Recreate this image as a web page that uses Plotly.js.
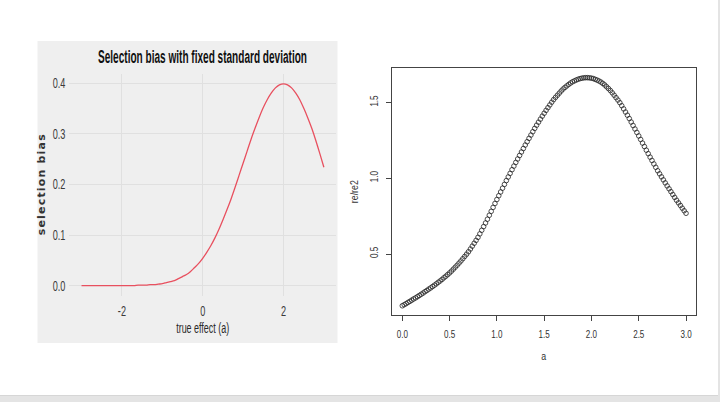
<!DOCTYPE html>
<html><head><meta charset="utf-8">
<script src="https://cdn.plot.ly/plotly-3.0.1.min.js"></script>
<style>html,body{margin:0;padding:0;background:#fff}#chart{width:720px;height:402px}</style>
</head><body><div id="chart"></div>
<script>
// Left panel: selection bias vs true effect (a), sampled every 0.1 from -3 to 3
const biasStart = -3, biasStep = 0.1;
const biasValues = [
  0.000,0.000,0.000,0.000,0.000,0.000,0.000,0.000,0.000,0.000,0.000,
  0.000,0.000,0.000,0.001,0.001,0.001,0.002,0.002,0.003,0.004,
  0.006,0.008,0.010,0.014,0.018,0.022,0.028,0.036,0.044,0.054,
  0.066,0.079,0.094,0.111,0.130,0.150,0.171,0.194,0.218,0.242,
  0.266,0.290,0.312,0.333,0.352,0.368,0.381,0.391,0.397,0.399,
  0.397,0.391,0.381,0.368,0.351,0.332,0.311,0.287,0.261,0.234
];
const biasXTicks = [-2, 0, 2];
const biasXTickText = ['-2', '0', '2'];
const biasYTicks = [0, 0.1, 0.2, 0.3, 0.4];
const biasYTickText = ['0.0', '0.1', '0.2', '0.3', '0.4'];

// Right panel: re/re2 vs a, sampled every 0.02 from 0 to 3
const ratioStart = 0, ratioStep = 0.02;
const ratioValues = [
  0.158,0.165,0.172,0.180,0.187,
  0.195,0.203,0.210,0.218,0.226,
  0.234,0.242,0.251,0.259,0.268,
  0.276,0.285,0.294,0.303,0.313,
  0.322,0.332,0.343,0.353,0.364,
  0.375,0.387,0.400,0.413,0.426,
  0.440,0.454,0.469,0.484,0.499,
  0.515,0.533,0.552,0.571,0.590,
  0.610,0.633,0.657,0.681,0.705,
  0.730,0.756,0.782,0.808,0.834,
  0.860,0.885,0.910,0.935,0.960,
  0.985,1.009,1.033,1.057,1.081,
  1.105,1.128,1.151,1.174,1.197,
  1.220,1.242,1.264,1.286,1.308,
  1.330,1.351,1.371,1.391,1.411,
  1.430,1.449,1.467,1.485,1.503,
  1.520,1.535,1.549,1.563,1.577,
  1.590,1.601,1.611,1.621,1.630,
  1.638,1.644,1.650,1.655,1.659,
  1.662,1.664,1.665,1.665,1.664,
  1.662,1.659,1.654,1.649,1.643,
  1.636,1.627,1.617,1.605,1.593,
  1.580,1.565,1.549,1.533,1.517,
  1.500,1.480,1.459,1.438,1.417,
  1.395,1.372,1.349,1.326,1.303,
  1.280,1.257,1.233,1.210,1.186,
  1.163,1.140,1.118,1.095,1.073,
  1.050,1.030,1.010,0.990,0.970,
  0.950,0.931,0.912,0.893,0.874,
  0.855,0.838,0.821,0.803,0.786,
  0.769
];
const ratioXTicks = [0, 0.5, 1, 1.5, 2, 2.5, 3];
const ratioXTickText = ['0.0', '0.5', '1.0', '1.5', '2.0', '2.5', '3.0'];
const ratioYTicks = [0.5, 1, 1.5];
const ratioYTickText = ['0.5', '1.0', '1.5'];

const biasX = biasValues.map((_, i) => +(biasStart + i * biasStep).toFixed(2));
const ratioX = ratioValues.map((_, i) => +(ratioStart + i * ratioStep).toFixed(2));

const W = 720, H = 402;
const px = v => v / W;
const py = v => (H - v) / H;

const sans = '"Liberation Sans", Arial, sans-serif';

const traces = [
  {x: biasX, y: biasValues, xaxis: 'x', yaxis: 'y', type: 'scatter', mode: 'lines',
   line: {color: '#e8505f', width: 1.3, shape: 'spline', smoothing: 1}, hoverinfo: 'skip'},
  {x: ratioX, y: ratioValues, xaxis: 'x2', yaxis: 'y2', type: 'scatter', mode: 'markers',
   marker: {symbol: 'circle-open', size: 4.6, color: '#222', line: {width: 0.8, color: '#222'}}, hoverinfo: 'skip'}
];

const layout = {
  width: W, height: H,
  margin: {l: 0, r: 0, t: 0, b: 0},
  paper_bgcolor: '#ffffff',
  plot_bgcolor: 'rgba(0,0,0,0)',
  showlegend: false,
  title: {text: 'Selection bias with fixed standard deviation',
          x: px(202.5), y: py(56.5), xanchor: 'center', yanchor: 'middle', xref: 'paper', yref: 'paper',
          font: {family: sans, size: 18, color: '#111', weight: 'bold'}},
  xaxis: {domain: [px(69.4), px(336)], range: [-3.3, 3.3], anchor: 'y',
          tickvals: biasXTicks, ticktext: biasXTickText, ticks: '', showline: false, zeroline: false,
          showgrid: true, gridcolor: '#e0e0e0', gridwidth: 1,
          tickfont: {family: sans, size: 14, color: '#3a3a3a'}, ticklabelstandoff: 5, automargin: false,
          title: {text: 'true effect (a)', standoff: 4, font: {family: sans, size: 15.5, color: '#2a2a2a'}}},
  yaxis: {domain: [py(295.8), py(73.7)], range: [-0.02, 0.419], anchor: 'x',
          tickvals: biasYTicks, ticktext: biasYTickText, ticks: '', showline: false, zeroline: false,
          showgrid: true, gridcolor: '#e0e0e0', gridwidth: 1,
          tickfont: {family: sans, size: 14, color: '#3a3a3a'}, ticklabelstandoff: 3, automargin: false,
          title: {text: 'selection bias', standoff: 4, font: {family: '"DejaVu Sans", sans-serif', size: 11, color: '#333', weight: 'bold'}}},
  xaxis2: {domain: [px(391.7), px(695.5)], range: [-0.112, 3.100], anchor: 'y2',
           tickvals: ratioXTicks, ticktext: ratioXTickText, ticks: 'outside', ticklen: 5, tickwidth: 1, tickcolor: '#444',
           showline: true, mirror: true, linecolor: '#444', linewidth: 1, showgrid: false, zeroline: false,
           tickfont: {family: sans, size: 11, color: '#333'}, ticklabelstandoff: 4, automargin: false,
           title: {text: 'a', standoff: 13, font: {family: sans, size: 11, color: '#333'}}},
  yaxis2: {domain: [py(315), py(68.3)], range: [0.097, 1.727], anchor: 'x2',
           tickvals: ratioYTicks, ticktext: ratioYTickText, ticks: 'outside', ticklen: 5, tickwidth: 1, tickcolor: '#444',
           showline: true, mirror: true, linecolor: '#444', linewidth: 1, showgrid: false, zeroline: false,
           tickangle: -90, tickfont: {family: sans, size: 11, color: '#333'}, ticklabelstandoff: 3, automargin: false,
           title: {text: 're/re2', standoff: 7, font: {family: sans, size: 11, color: '#333'}}},
  shapes: [
    {type: 'rect', xref: 'paper', yref: 'paper', x0: px(37.5), x1: px(337.5), y0: py(343), y1: py(41),
     fillcolor: '#efefef', line: {width: 0}, layer: 'below'},
    {type: 'rect', xref: 'paper', yref: 'paper', x0: 0, x1: 1, y0: 0, y1: py(396),
     fillcolor: '#e4e4e4', line: {width: 0}, layer: 'below'},
    {type: 'line', xref: 'paper', yref: 'paper', x0: 0, x1: px(718), y0: py(395.5), y1: py(395.5),
     line: {color: '#d6d6d6', width: 1}, layer: 'below'},
    {type: 'rect', xref: 'paper', yref: 'paper', x0: px(718), x1: 1, y0: 0, y1: 1,
     fillcolor: '#e4e4e4', line: {width: 0}, layer: 'below'}
  ]
};

// Narrow (or spread) text horizontally to mimic the fonts of the reference
function squeeze(gd, selector, ratio, target, mode) {
  gd.querySelectorAll(selector).forEach(t => {
    const len = t.getComputedTextLength();
    if (!len) return;
    t.setAttribute('textLength', (target || len * ratio).toFixed(1));
    t.setAttribute('lengthAdjust', mode || 'spacingAndGlyphs');
  });
}

Plotly.newPlot('chart', traces, layout, {displayModeBar: false, staticPlot: true}).then(gd => {
  squeeze(gd, '.gtitle', 1, 209);
  squeeze(gd, '.subplot.xy .xtick text', 0.65);
  squeeze(gd, '.subplot.xy .ytick text', 0.65);
  squeeze(gd, '.g-xtitle text', 1, 53);
  squeeze(gd, '.g-ytitle text', 1, 101, 'spacing');
  squeeze(gd, '.subplot.x2y2 .x2tick text', 0.73);
  squeeze(gd, '.subplot.x2y2 .y2tick text', 0.73);
  squeeze(gd, '.g-x2title text', 0.8);
  squeeze(gd, '.g-y2title text', 0.8);
  // tick labels got narrower, so bring the y title closer to them as in the reference
  const yt = gd.querySelector('.g-ytitle');
  if (yt) yt.setAttribute('transform', 'translate(6,0)');
});
</script>
</body></html>
